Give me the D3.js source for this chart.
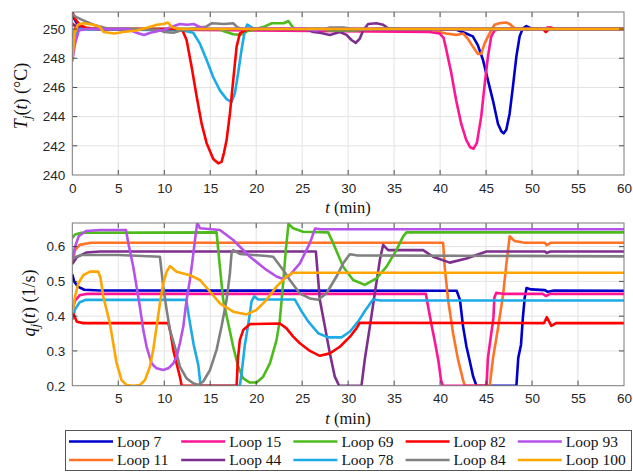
<!DOCTYPE html>
<html>
<head>
<meta charset="utf-8">
<script src="https://cdn.jsdelivr.net/npm/d3@7"></script>
<style>
  html, body { margin: 0; padding: 0; background: #fff; }
  svg { display: block; }
</style>
</head>
<body>
<svg id="chart" width="633" height="472"></svg>
<script>
// legend / plot order (MATLAB plot order, legend fills column by column)
const loopNames = ["Loop 7", "Loop 11", "Loop 15", "Loop 44", "Loop 69",
                   "Loop 78", "Loop 82", "Loop 84", "Loop 93", "Loop 100"];
const loopColors = ["#0000cc", "#ff7326", "#ff1493", "#7e2f8e", "#4dbb1c",
                    "#1cabe6", "#ff0000", "#808080", "#b452ea", "#ffa500"];

const xTicksTop = [0, 5, 10, 15, 20, 25, 30, 35, 40, 45, 50, 55, 60];
const xTicksBottom = [5, 10, 15, 20, 25, 30, 35, 40, 45, 50, 55, 60];
const yTicksTop = [240, 242, 244, 246, 248, 250];
const yTicksBottom = [0.2, 0.3, 0.4, 0.5, 0.6];

// jacket temperature Tj(t) in degC, [t (min), value]
const tj7 = [[0,251.0],[0.3,250.6],[0.7,250.2],[1.2,250.0],[41.8,249.95],[42.84,249.7],[43.56,249.5],[44.1,248.9],[44.66,247.9],[45.2,246.5],[45.75,245.1],[46.3,243.5],[46.66,243.0],[46.91,242.85],[47.2,243.1],[47.56,244.2],[47.92,246.05],[48.29,248.1],[48.65,249.5],[49.0,250.05],[49.38,250.2],[50.1,250.0],[60,250.0]];
const tj11 = [[0,249.3],[0.3,250.1],[1,250.2],[2,250.05],[3,250],[39,250],[39.94,249.8],[40.67,249.7],[41.75,249.6],[42.5,249.7],[43.0,249.35],[43.56,248.8],[44.1,248.3],[44.47,248.3],[44.83,249.0],[45.38,249.7],[45.92,250.3],[46.46,250.4],[47.2,250.45],[47.56,250.35],[48.1,250.05],[49,250],[60,250]];
const tj15 = [[0,250.4],[0.5,250.1],[1.5,250],[38.86,249.8],[39.94,249.7],[40.38,249.4],[40.67,248.6],[41.21,247.0],[41.75,245.1],[42.3,243.5],[42.84,242.4],[43.27,241.9],[43.64,241.8],[44.0,242.2],[44.47,244.0],[44.83,246.1],[45.2,248.1],[45.56,249.5],[45.92,249.9],[46.46,250.0],[51.3,250.0],[51.7,250.12],[52.5,250.0],[60,250]];
const tj44 = [[0,250.3],[1,250.1],[2,250],[25.5,250],[26.2,249.8],[26.92,249.75],[28.01,249.6],[29.1,249.8],[29.82,249.6],[30.36,249.25],[30.83,249.05],[31.27,249.35],[31.63,249.9],[32.17,250.35],[33.08,250.4],[33.8,250.3],[34.35,250.05],[35,250],[60,250]];
const tj69 = [[0,249.5],[0.3,249.8],[1,250],[16,250],[16.5,249.85],[17.5,249.65],[18.3,249.6],[19,249.85],[20,250],[21,250.2],[21.7,250.4],[23,250.4],[23.5,250.55],[24,250.1],[24.5,250],[27,250],[28,249.9],[30.5,249.9],[33,250],[35,250.05],[36,250],[60,250]];
const tj78 = [[0,248.8],[0.3,249.6],[0.8,250],[12,249.9],[13.15,249.75],[13.88,249.0],[14.6,247.9],[15.33,246.7],[16.05,245.8],[16.78,245.2],[17.32,245.0],[17.68,245.6],[18.04,247.0],[18.41,248.6],[18.77,249.9],[19.02,250.3],[19.68,250.05],[20.5,250],[60,250]];
const tj82 = [[0,251.2],[0.3,250.7],[0.8,250.3],[1.5,250.05],[3,250],[11.5,250],[11.99,249.9],[12.43,249.25],[12.98,247.4],[13.52,245.4],[14.07,243.5],[14.6,242.2],[15.33,241.1],[15.87,240.8],[16.23,240.9],[16.49,241.5],[16.78,242.4],[17.14,244.2],[17.5,246.5],[17.87,248.8],[18.22,249.7],[18.77,249.9],[19.5,250],[51.2,250],[51.5,249.8],[52,250.1],[52.5,250],[60,250]];
const tj84 = [[0,251.0],[0.5,250.8],[1.2,250.6],[2.3,250.3],[3.7,250.05],[9.5,249.95],[10,249.8],[11,249.75],[11.8,249.9],[14.5,250.15],[15.2,250.4],[16.5,250.35],[17.5,250.4],[18,250.1],[18.5,250],[27.5,250],[28,250.1],[29.5,250.1],[30.5,250],[60,250]];
const tj93 = [[0,247.8],[0.3,249.0],[0.7,249.9],[1.5,250],[6,250],[7,249.75],[7.8,249.6],[8.5,249.75],[10,249.95],[11,250.2],[11.7,250.35],[12.5,250.3],[13.2,250.35],[14,250.1],[15,250],[25,250.05],[26.5,249.9],[27.5,250],[60,250]];
const tj100 = [[0,247.8],[0.25,249.7],[0.6,250.3],[1.2,250.4],[2.3,250.3],[3.0,250.15],[3.4,249.8],[4.6,249.7],[5.5,249.8],[7,249.9],[8.4,250.15],[9.2,250.3],[9.9,250.35],[10.4,250.45],[10.8,250.15],[11.5,250],[60,250]];

// flow rate qj(t) in 1/s, [t (min), value]
const q7 = [[0,0.52],[0.2,0.5],[0.6,0.485],[1.3,0.476],[3,0.474],[41.8,0.473],[42.16,0.447],[42.5,0.37],[42.87,0.312],[43.2,0.274],[43.6,0.226],[43.95,0.2],[48.3,0.2],[48.5,0.28],[48.8,0.318],[49.0,0.395],[49.2,0.453],[49.4,0.481],[49.9,0.477],[51.4,0.475],[51.7,0.47],[52.4,0.474],[60,0.473]];
const q11 = [[0,0.55],[0.3,0.59],[0.8,0.605],[2,0.611],[40.33,0.611],[40.5,0.542],[40.87,0.447],[41.41,0.351],[41.96,0.274],[42.5,0.216],[42.68,0.2],[45.4,0.2],[45.76,0.28],[46.3,0.366],[46.85,0.462],[47.2,0.548],[47.57,0.63],[48.1,0.616],[49.2,0.611],[51.4,0.611],[51.6,0.604],[52,0.611],[60,0.611]];
const q15 = [[0,0.418],[0.3,0.445],[0.8,0.46],[1.5,0.464],[38.45,0.464],[38.7,0.427],[39.1,0.37],[39.4,0.331],[39.8,0.274],[40.1,0.216],[40.3,0.2],[45.05,0.2],[45.2,0.28],[45.5,0.338],[45.8,0.395],[45.9,0.453],[46.1,0.467],[47,0.464],[51.2,0.464],[51.5,0.458],[52,0.464],[60,0.464]];
const q44 = [[0,0.55],[0.5,0.57],[1.5,0.583],[3,0.586],[26.49,0.586],[26.92,0.447],[27.47,0.37],[28.01,0.293],[28.55,0.226],[29.02,0.2],[31.45,0.2],[31.8,0.274],[32.36,0.37],[32.9,0.466],[33.45,0.562],[33.8,0.605],[34.35,0.59],[38.15,0.59],[39.24,0.571],[41.05,0.554],[42.87,0.566],[45.04,0.586],[51.4,0.586],[51.6,0.582],[52,0.586],[60,0.586]];
const q69 = [[0,0.625],[0.3,0.635],[1,0.64],[15.69,0.641],[16.05,0.542],[16.41,0.447],[16.96,0.379],[17.5,0.312],[18.04,0.255],[18.59,0.221],[19.31,0.209],[20.04,0.209],[20.76,0.226],[21.49,0.264],[22.21,0.331],[22.57,0.389],[22.93,0.494],[23.22,0.59],[23.51,0.665],[24.02,0.653],[25.1,0.643],[27.83,0.641],[28.37,0.61],[29.46,0.542],[30.54,0.504],[31.81,0.49],[33.08,0.509],[34.16,0.542],[35.25,0.59],[35.97,0.629],[36.34,0.641],[60,0.641]];
const q78 = [[0,0.389],[0.3,0.42],[0.8,0.44],[1.5,0.447],[12.4,0.447],[12.7,0.395],[13.2,0.318],[13.7,0.26],[13.95,0.2],[18.23,0.2],[18.48,0.251],[18.77,0.318],[19.13,0.376],[19.5,0.443],[19.79,0.457],[20.2,0.448],[24.2,0.448],[24.93,0.414],[25.65,0.385],[26.74,0.351],[27.83,0.339],[29.28,0.339],[30.2,0.356],[31.1,0.385],[31.8,0.414],[32.7,0.448],[33.5,0.445],[60,0.445]];
const q82 = [[0,0.413],[0.5,0.384],[1.2,0.38],[10.44,0.38],[10.7,0.351],[10.98,0.303],[11.34,0.264],[11.7,0.226],[11.9,0.2],[17.87,0.2],[18.0,0.274],[18.22,0.331],[18.59,0.36],[19.31,0.377],[22.57,0.379],[23.3,0.365],[24.02,0.341],[24.75,0.322],[25.84,0.3],[26.92,0.286],[28.0,0.293],[29.1,0.312],[30.2,0.341],[30.9,0.365],[31.27,0.381],[51.3,0.38],[51.6,0.397],[52.1,0.372],[52.6,0.38],[60,0.38]];
const q84 = [[0,0.566],[0.5,0.572],[1,0.576],[5,0.576],[9.53,0.571],[9.89,0.485],[10.26,0.418],[10.62,0.36],[11.16,0.312],[11.7,0.255],[12.43,0.221],[13.15,0.207],[13.7,0.202],[14.24,0.212],[14.97,0.245],[15.69,0.303],[16.23,0.37],[16.78,0.447],[17.14,0.523],[17.32,0.581],[17.5,0.59],[18.22,0.579],[21.12,0.573],[21.85,0.571],[22.93,0.533],[23.66,0.504],[24.75,0.465],[25.84,0.451],[26.74,0.447],[27.65,0.466],[28.73,0.514],[29.46,0.552],[30.18,0.578],[30.9,0.575],[60,0.572]];
const q93 = [[0,0.56],[0.3,0.6],[0.7,0.63],[1.5,0.645],[3,0.648],[5.84,0.648],[6.09,0.61],[6.63,0.542],[6.99,0.485],[7.35,0.427],[7.72,0.36],[8.08,0.312],[8.63,0.264],[9.17,0.25],[9.89,0.245],[10.44,0.25],[10.98,0.264],[11.34,0.283],[11.7,0.322],[12.07,0.37],[12.43,0.447],[12.79,0.504],[13.08,0.562],[13.34,0.619],[13.59,0.669],[13.88,0.653],[16.05,0.648],[17.5,0.619],[19.31,0.571],[21.12,0.533],[22.21,0.514],[22.93,0.507],[23.66,0.518],[24.75,0.552],[25.84,0.61],[26.4,0.652],[27,0.65],[60,0.65]];
const q100 = [[0,0.408],[0.29,0.456],[0.65,0.494],[1.2,0.518],[1.92,0.528],[2.83,0.528],[3.08,0.509],[3.37,0.456],[3.73,0.418],[4.09,0.379],[4.45,0.322],[4.82,0.264],[5.36,0.216],[5.9,0.202],[6.63,0.2],[7.35,0.202],[7.9,0.216],[8.44,0.255],[8.8,0.303],[9.17,0.37],[9.53,0.437],[9.89,0.494],[10.26,0.528],[10.62,0.544],[11.34,0.528],[12.79,0.518],[13.88,0.504],[14.97,0.471],[16.05,0.437],[17.5,0.413],[18.95,0.405],[20.04,0.418],[21.12,0.447],[22.21,0.485],[23.3,0.514],[24.02,0.525],[60,0.525]];

const tjSeries = [tj7, tj11, tj15, tj44, tj69, tj78, tj82, tj84, tj93, tj100];
const qSeries = [q7, q11, q15, q44, q69, q78, q82, q84, q93, q100];

const svg = d3.select("#chart");
const tickFont = "'Liberation Sans', Arial, sans-serif";
const mathFont = "'Liberation Serif', 'Times New Roman', serif";
const axisColor = "#262626";

function drawPanel({ top, bottom, yDomain, yTicks, xTicks, yFormat, data, clipId }) {
  const left = 72.3, right = 624;
  const x = d3.scaleLinear().domain([0, 60]).range([left, right]);
  const y = d3.scaleLinear().domain(yDomain).range([bottom, top]);
  const g = svg.append("g");

  // grid
  g.append("g")
    .selectAll("line")
    .data(xTicks.filter((t) => t > 0 && t < 60))
    .join("line")
    .attr("x1", (d) => x(d)).attr("x2", (d) => x(d))
    .attr("y1", top).attr("y2", bottom)
    .attr("stroke", "#e3e3e3").attr("stroke-width", 1);
  g.append("g")
    .selectAll("line")
    .data(yTicks.filter((v) => v > yDomain[0]))
    .join("line")
    .attr("x1", left).attr("x2", right)
    .attr("y1", (d) => y(d)).attr("y2", (d) => y(d))
    .attr("stroke", "#e3e3e3").attr("stroke-width", 1);

  // lines
  svg.append("clipPath").attr("id", clipId)
    .append("rect").attr("x", left).attr("y", top)
    .attr("width", right - left).attr("height", bottom - top);

  const line = d3.line().x((d) => x(d[0])).y((d) => y(d[1]));
  g.append("g").attr("clip-path", `url(#${clipId})`)
    .selectAll("path")
    .data(data)
    .join("path")
    .attr("d", (d) => line(d))
    .attr("fill", "none")
    .attr("stroke", (d, i) => loopColors[i])
    .attr("stroke-width", 2.6)
    .attr("stroke-linejoin", "round");

  // axes (inward ticks, MATLAB style)
  const xAxis = g.append("g")
    .attr("transform", `translate(0,${bottom})`)
    .call(d3.axisBottom(x).tickValues(xTicks).tickSize(0).tickPadding(8));
  const yAxis = g.append("g")
    .attr("transform", `translate(${left},0)`)
    .call(d3.axisLeft(y).tickValues(yTicks).tickFormat(yFormat).tickSize(0).tickPadding(7));
  [xAxis, yAxis].forEach((a) => {
    a.select(".domain").remove();
    a.selectAll("text")
      .attr("fill", axisColor)
      .style("font-family", tickFont)
      .style("font-size", "13.5px");
  });

  const inner = g.append("g").attr("stroke", axisColor).attr("stroke-width", 0.8);
  xTicks.filter((t) => t > 0 && t < 60).forEach((t) => {
    inner.append("line").attr("x1", x(t)).attr("x2", x(t)).attr("y1", bottom).attr("y2", bottom - 5);
    inner.append("line").attr("x1", x(t)).attr("x2", x(t)).attr("y1", top).attr("y2", top + 5);
  });
  yTicks.filter((v) => v > yDomain[0]).forEach((v) => {
    inner.append("line").attr("x1", left).attr("x2", left + 5).attr("y1", y(v)).attr("y2", y(v));
    inner.append("line").attr("x1", right).attr("x2", right - 5).attr("y1", y(v)).attr("y2", y(v));
  });

  g.append("rect")
    .attr("x", left).attr("y", top)
    .attr("width", right - left).attr("height", bottom - top)
    .attr("fill", "none").attr("stroke", "#7a7a7a").attr("stroke-width", 1);

  return { x, y };
}

drawPanel({
  top: 12, bottom: 175, yDomain: [240, 251.17], yTicks: yTicksTop,
  xTicks: xTicksTop, yFormat: d3.format("d"), data: tjSeries, clipId: "clipTop",
});
drawPanel({
  top: 223, bottom: 385.7, yDomain: [0.2, 0.668], yTicks: yTicksBottom,
  xTicks: xTicksBottom, yFormat: d3.format(".1f"), data: qSeries, clipId: "clipBottom",
});

// axis labels
function xLabel(cy) {
  const t = svg.append("text")
    .attr("x", 348).attr("y", cy)
    .attr("text-anchor", "middle")
    .attr("fill", "#111")
    .style("font-family", mathFont)
    .style("font-size", "16.5px");
  t.append("tspan").attr("font-style", "italic").text("t");
  t.append("tspan").text(" (min)");
}
xLabel(213);
xLabel(424);

function yLabel(cx, cy, sym, unit) {
  const t = svg.append("text")
    .attr("transform", `translate(${cx},${cy}) rotate(-90)`)
    .attr("text-anchor", "middle")
    .attr("fill", "#111")
    .style("font-family", mathFont)
    .style("font-size", "18px");
  t.append("tspan").attr("font-style", "italic").text(sym);
  t.append("tspan").attr("font-style", "italic").attr("font-size", "13px").attr("dy", 4).text("j");
  t.append("tspan").attr("dy", -4).text("(");
  t.append("tspan").attr("font-style", "italic").text("t");
  t.append("tspan").text(") " + unit);
}
yLabel(27, 96, "T", "(°C)");
yLabel(35, 303, "q", "(1/s)");

// legend
const legend = svg.append("g");
legend.append("rect")
  .attr("x", 65.5).attr("y", 430.5).attr("width", 566).attr("height", 40)
  .attr("fill", "#fff").attr("stroke", "#555").attr("stroke-width", 1);
const legendItems = legend.selectAll("g")
  .data(loopNames)
  .join("g")
  .attr("transform", (d, i) => `translate(${69 + Math.floor(i / 2) * 112.2},${i % 2 === 0 ? 441.5 : 460})`);
legendItems.append("line")
  .attr("x1", 0).attr("x2", 44).attr("y1", 0).attr("y2", 0)
  .attr("stroke", (d, i) => loopColors[i]).attr("stroke-width", 2.6);
legendItems.append("text")
  .attr("x", 48).attr("y", 5)
  .attr("fill", "#111")
  .style("font-family", mathFont)
  .style("font-size", "15.5px")
  .text((d) => d);
</script>
</body>
</html>
